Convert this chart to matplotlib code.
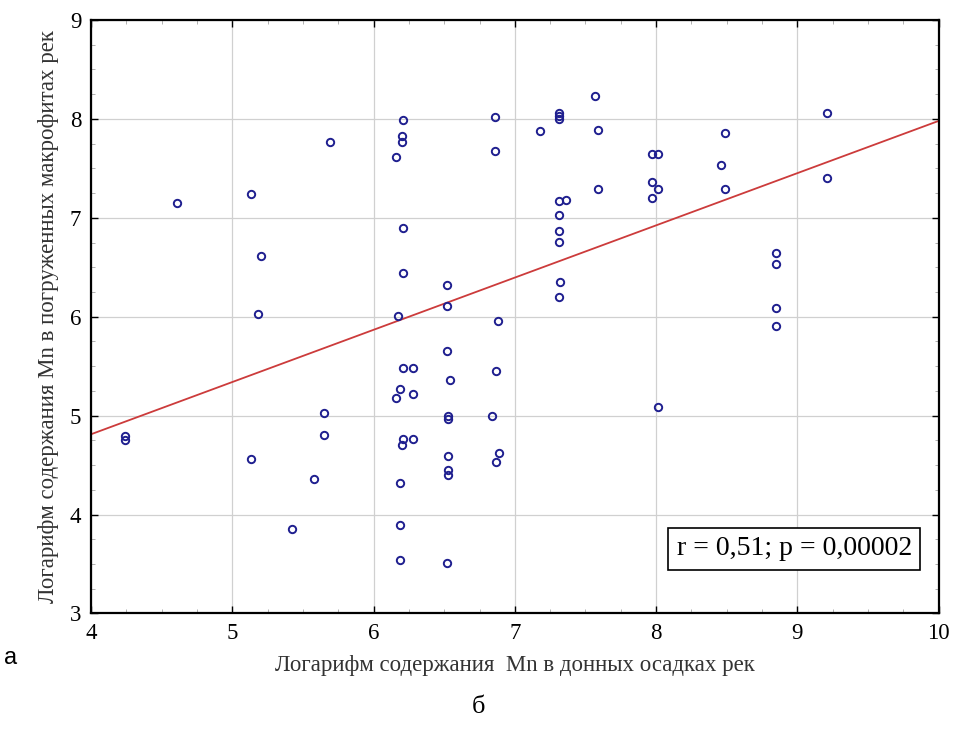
import matplotlib
matplotlib.use("Agg")
import matplotlib.pyplot as plt
import numpy as np
from matplotlib.ticker import MultipleLocator

# log Mn in river bottom sediments (x) vs in submerged macrophytes (y)
mn_sediment = [
    4.24, 4.24, 4.61, 5.13, 5.13, 5.20, 5.18, 5.42, 5.58, 5.65, 5.65, 5.69,
    6.16, 6.17, 6.16, 6.19, 6.19, 6.19, 6.19, 6.20, 6.20, 6.20, 6.21, 6.21,
    6.21, 6.21, 6.21, 6.28, 6.28, 6.28, 6.52, 6.52, 6.52, 6.52, 6.53, 6.53,
    6.53, 6.53, 6.53, 6.54, 6.84, 6.86, 6.86, 6.87, 6.87, 6.88, 6.89, 7.18,
    7.31, 7.31, 7.31, 7.31, 7.31, 7.31, 7.31, 7.31, 7.32, 7.36, 7.57, 7.59,
    7.59, 7.97, 7.97, 7.97, 8.01, 8.01, 8.01, 8.46, 8.49, 8.49, 8.85, 8.85,
    8.85, 8.85, 9.21, 9.21,
]
mn_macrophytes = [
    4.79, 4.75, 7.15, 7.24, 4.56, 6.61, 6.03, 3.85, 4.36, 5.03, 4.80, 7.77,
    7.61, 6.01, 5.18, 4.32, 3.89, 3.54, 5.27, 4.70, 7.83, 7.77, 7.99, 6.90,
    6.44, 5.48, 4.76, 5.48, 5.22, 4.76, 6.32, 6.11, 5.65, 3.51, 4.97, 5.00,
    4.59, 4.45, 4.40, 5.36, 5.00, 8.02, 7.68, 5.45, 4.53, 5.96, 4.62, 7.88,
    8.06, 8.03, 8.00, 7.17, 7.03, 6.87, 6.76, 6.20, 6.35, 7.18, 8.23, 7.89,
    7.29, 7.65, 7.36, 7.20, 7.65, 7.29, 5.09, 7.53, 7.86, 7.29, 6.64, 6.53,
    6.09, 5.91, 8.06, 7.40,
]
# regression line
fit_intercept = 2.70
fit_slope = 0.528
stats_text = "r = 0,51; p = 0,00002"

x_label = "Логарифм содержания  Mn в донных осадках рек"
y_label = "Логарифм содержания Mn в погруженных макрофитах рек"

serif = "Liberation Serif"

fig = plt.figure(figsize=(9.56, 7.38), dpi=100)
ax = fig.add_axes([0.0952, 0.1687, 0.8867, 0.8042])

ax.grid(True, color="#d0d0d0", linewidth=0.9, zorder=0)
ax.set_axisbelow(True)

line_x = np.array([4.0, 10.0])
ax.plot(line_x, fit_intercept + fit_slope * line_x, color="#cc3b3b", linewidth=1.3, zorder=2)

ax.plot(mn_sediment, mn_macrophytes, linestyle="none", marker="o", markersize=5.3,
        markerfacecolor="none", markeredgecolor="#1f1f8f", markeredgewidth=1.4, zorder=3)

ax.set_xlim(4, 10)
ax.set_ylim(3, 9)
ax.xaxis.set_major_locator(MultipleLocator(1))
ax.yaxis.set_major_locator(MultipleLocator(1))
ax.xaxis.set_minor_locator(MultipleLocator(0.25))
ax.yaxis.set_minor_locator(MultipleLocator(0.25))
ax.tick_params(which="major", direction="in", length=5, width=1.0, color="black",
               top=True, right=True, labelsize=16.5, pad=7)
ax.tick_params(which="minor", direction="in", length=3, width=0.7, color="#b0b0b0",
               top=True, right=True)
for lab in ax.get_xticklabels() + ax.get_yticklabels():
    lab.set_fontfamily(serif)
for sp in ax.spines.values():
    sp.set_linewidth(1.6)
    sp.set_color("black")

ax.set_xlabel(x_label, fontfamily=serif, fontsize=16.5, color="#333333", labelpad=8)
ax.set_ylabel(y_label, fontfamily=serif, fontsize=16.5, color="#333333", labelpad=8)

ax.text(0.9685, 0.1087, stats_text, transform=ax.transAxes, ha="right", va="center",
        fontfamily=serif, fontsize=20,
        bbox=dict(boxstyle="square,pad=0.3", facecolor="white", edgecolor="black", linewidth=1.2),
        zorder=5)

fig.text(0.004, 0.108, "а", fontfamily="Liberation Sans", fontsize=17, ha="left", va="center")
fig.text(0.501, 0.042, "б", fontfamily=serif, fontsize=19, ha="center", va="center")

fig.savefig("out.png", dpi=100)
